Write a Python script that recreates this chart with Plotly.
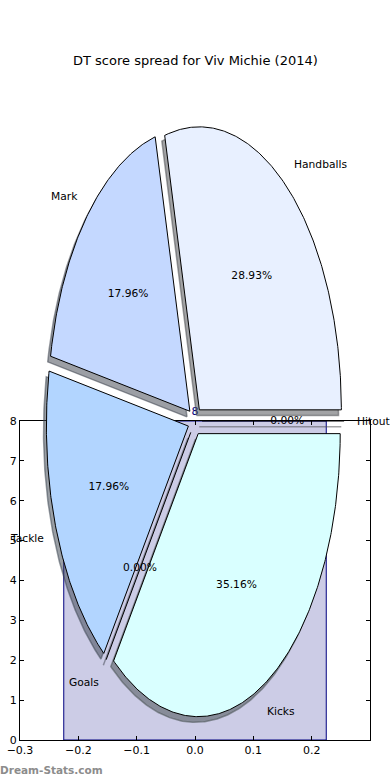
import numpy as np
import plotly.graph_objects as go

# ---- data ----
slice_labels = ["Handballs", "Mark", "Tackle", "Goals", "Kicks", "Hitout"]
slice_values = [28.93, 17.96, 17.96, 0.0, 35.16, 0.0]
slice_colors = ["#e8f0ff", "#c4d8ff", "#b2d5ff", "#c8dcff", "#d9ffff", "#eef4ff"]
explode = [0.05, 0.05, 0.05, 0.05, 0.05, 0.05]

bar_x = [0.0]
bar_y = [8]
bar_width = 0.45

xtick_vals = [-0.3, -0.2, -0.1, 0.0, 0.1, 0.2]
xtick_text = ["\u22120.3", "\u22120.2", "\u22120.1", "0.0", "0.1", "0.2"]
ytick_vals = [0, 1, 2, 3, 4, 5, 6, 7, 8]

title_text = "DT score spread for Viv Michie (2014)"
FONT = "DejaVu Sans"

W, H = 390, 780
# pie geometry (pixel) -> used to set overlay axis ranges
cx_px, cy_px, rx_px, ry_px = 195.0, 421.0, 142.0, 283.0

fig = go.Figure()

# ---- bar (histogram-like) axes ----
fig.add_trace(go.Bar(
    x=bar_x, y=bar_y, width=bar_width,
    marker=dict(color="rgba(0,0,128,0.2)", line=dict(color="navy", width=1)),
    text=[str(v) for v in bar_y], textposition="outside",
    textfont=dict(family=FONT, size=11, color="navy"),
    cliponaxis=False, showlegend=False, hoverinfo="skip",
    xaxis="x", yaxis="y",
))

# ---- pie (elliptical, exploded, with shadows) ----
total = sum(slice_values)
fracs = [v / total for v in slice_values]
starts = np.concatenate([[0.0], np.cumsum(fracs)[:-1]]) * 360.0
ends = np.cumsum(fracs) * 360.0

def hex_rgb(h):
    h = h.lstrip("#")
    return [int(h[i:i + 2], 16) for i in (0, 2, 4)]

geoms = []
for lab, f, t1, t2, e, col in zip(slice_labels, fracs, starts, ends, explode, slice_colors):
    mid = np.deg2rad((t1 + t2) / 2.0)
    ox, oy = e * np.cos(mid), e * np.sin(mid)
    th = np.deg2rad(np.linspace(t1, t2, max(2, int(abs(t2 - t1) * 2) + 2)))
    if f > 0:
        px = np.concatenate([[ox], ox + np.cos(th), [ox]])
        py = np.concatenate([[oy], oy + np.sin(th), [oy]])
    else:
        px = np.array([ox, ox + np.cos(th[0])])
        py = np.array([oy, oy + np.sin(th[0])])
    geoms.append((lab, f, mid, ox, oy, px, py, col))

# shadows first (below all wedges)
for lab, f, mid, ox, oy, px, py, col in geoms:
    r, g, b = hex_rgb(col)
    sc = "rgba(%d,%d,%d,0.5)" % (int(0.3 * r), int(0.3 * g), int(0.3 * b))
    fig.add_trace(go.Scatter(
        x=px - 0.02, y=py - 0.02, mode="lines",
        fill="toself" if f > 0 else None, fillcolor=sc,
        line=dict(color=sc, width=1.5),
        showlegend=False, hoverinfo="skip", xaxis="x2", yaxis="y2",
    ))

for lab, f, mid, ox, oy, px, py, col in geoms:
    fig.add_trace(go.Scatter(
        x=px, y=py, mode="lines",
        fill="toself" if f > 0 else None, fillcolor=col,
        line=dict(color="black", width=1),
        showlegend=False, hoverinfo="skip", xaxis="x2", yaxis="y2",
    ))

annotations = []
# labels (1.1 r) and percentages (0.6 r)
for lab, f, mid, ox, oy, px, py, col in geoms:
    lx, ly = ox + 1.1 * np.cos(mid), oy + 1.1 * np.sin(mid)
    annotations.append(dict(
        text=lab, x=lx, y=ly, xref="x2", yref="y2", showarrow=False,
        xanchor="left" if lx > 0 else "right", yanchor="middle",
        borderpad=0, borderwidth=0, xshift=-1 if lx > 0 else 1,
        font=dict(family=FONT, size=10.7, color="black"),
    ))
    qx, qy = ox + 0.6 * np.cos(mid), oy + 0.6 * np.sin(mid)
    fig.add_trace(go.Scatter(
        x=[qx], y=[qy], mode="text", text=["%.2f%%" % (100 * f)],
        textposition="middle center",
        textfont=dict(family=FONT, size=10.7, color="black"),
        showlegend=False, hoverinfo="skip", xaxis="x2", yaxis="y2",
    ))

axis_common = dict(
    showline=True, linecolor="black", linewidth=1, mirror="ticks",
    ticks="inside", ticklen=4, tickwidth=1, tickcolor="black",
    showgrid=False, zeroline=False, automargin=False,
    tickfont=dict(family=FONT, size=11, color="black"),
)

annotations += [
    dict(text=title_text, xref="paper", yref="paper", x=0.5, y=1 - 61 / H,
         xanchor="center", yanchor="middle", showarrow=False,
         font=dict(family=FONT, size=13, color="black")),
    dict(text="<b>Dream-Stats.com</b>", xref="paper", yref="paper", x=0, y=1 - 770 / H,
         xanchor="left", yanchor="middle", showarrow=False, borderpad=0, borderwidth=0,
         font=dict(family=FONT, size=10.5, color="#8c8c8c")),
]

fig.update_layout(
    template="none",
    width=W, height=H, autosize=False,
    margin=dict(l=0, r=0, t=0, b=0, pad=0),
    paper_bgcolor="white", plot_bgcolor="rgba(0,0,0,0)",
    showlegend=False,
    xaxis=dict(domain=[20 / W, 370 / W], range=[-0.3, 0.3],
               tickmode="array", tickvals=xtick_vals, ticktext=xtick_text,
               anchor="y", **axis_common),
    yaxis=dict(domain=[1 - 740 / H, 1 - 421 / H], range=[0, 8],
               tickmode="array", tickvals=ytick_vals, anchor="x", **axis_common),
    xaxis2=dict(domain=[0, 1], range=[-cx_px / rx_px, (W - cx_px) / rx_px],
                visible=False, anchor="y2", fixedrange=True, automargin=False),
    yaxis2=dict(domain=[0, 1], range=[-(H - cy_px) / ry_px, cy_px / ry_px],
                visible=False, anchor="x2", fixedrange=True, automargin=False),
    annotations=annotations,
)

fig.write_html("out.html")
